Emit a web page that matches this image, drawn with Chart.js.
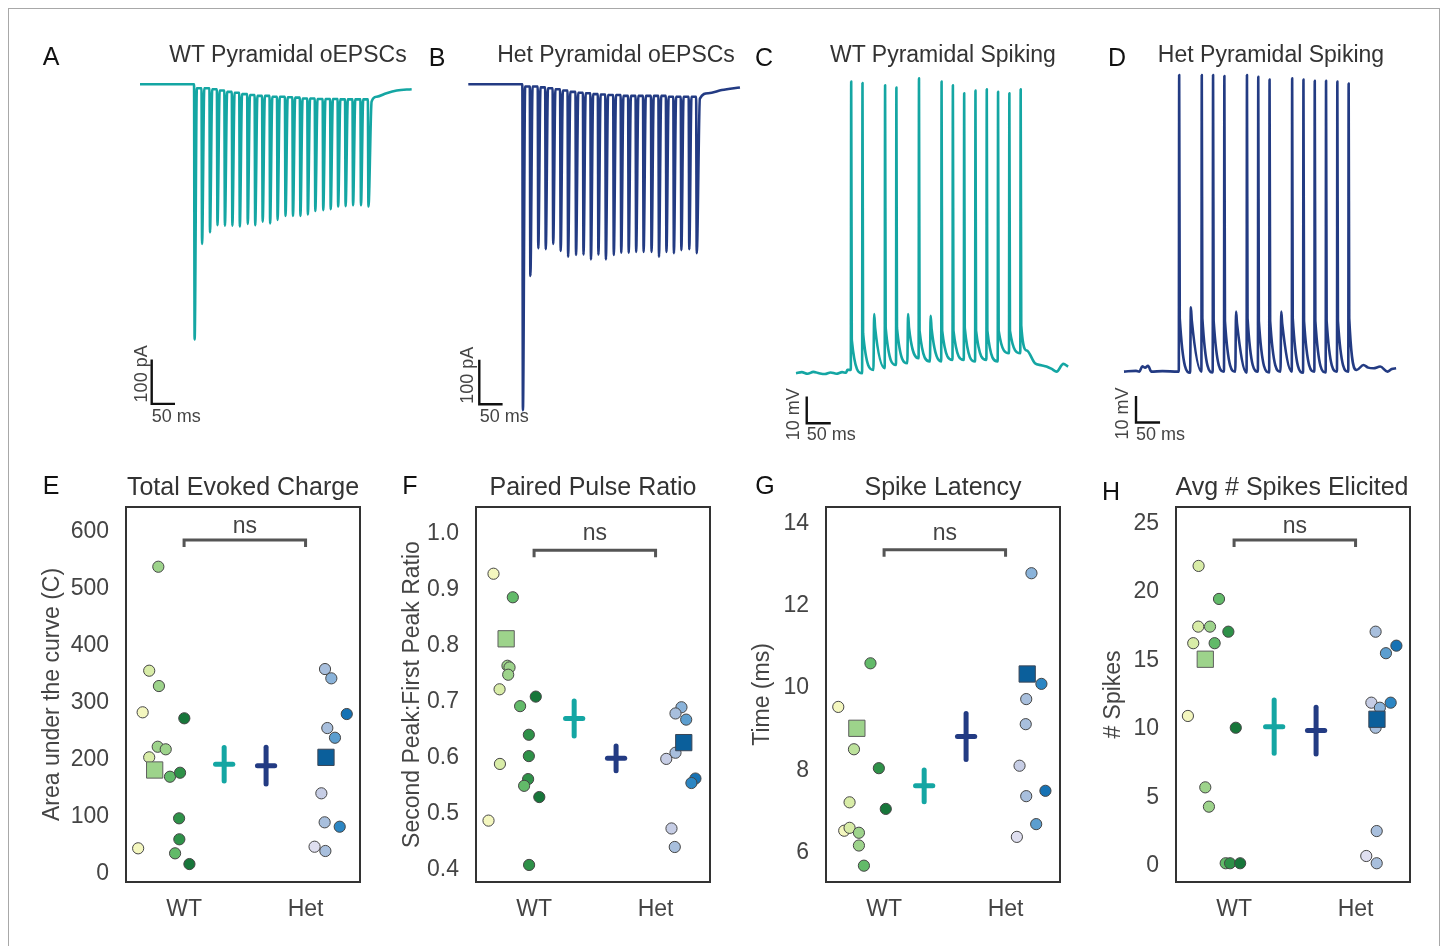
<!DOCTYPE html>
<html><head><meta charset="utf-8">
<script src="https://cdn.jsdelivr.net/npm/chart.js@4.4.1/dist/chart.umd.min.js"></script>
<style>
body{margin:0;background:#fff;}
#page{position:relative;width:1444px;height:946px;overflow:hidden;font-family:"Liberation Sans",Arial,Helvetica,sans-serif;background:#fff;}
canvas{position:absolute;}
.t{position:absolute;transform:translate(-50%,-50%);white-space:nowrap;line-height:1;}
</style></head><body><div id="page">
<div style="position:absolute;left:8px;top:8px;width:1430px;height:960px;border:1px solid #a8a8a8;"></div>
</div>
<script>
// ---------------- DATA ----------------
// oEPSC traces (time in ms, current in pA relative to baseline)
const epscPulseTimes = [116,132,149,165,181,197,213,230,246,262,278,294,311,327,343,359,375,392,408,424,440,456,473,489];
const wtEpscTroughs = [-574,-359,-333,-317,-318,-318,-320,-314,-317,-309,-313,-305,-296,-296,-296,-293,-285,-283,-281,-275,-274,-272,-272,-275];
const wtEpscRecovery = [-9,-9,-11,-14,-17,-19,-22,-24,-26,-26,-28,-28,-29,-30,-32,-32,-33,-33,-33,-34,-34,-34,-34];
const wtEpscTailTimes = [497,508,529,551,583];
const wtEpscTailValues = [-39,-28,-20,-14,-11];
const hetEpscTroughs = [-733,-431,-369,-371,-359,-375,-388,-384,-383,-394,-383,-394,-384,-379,-379,-377,-377,-377,-388,-377,-380,-373,-371,-380];
const hetEpscRecovery = [-5,-5,-7,-9,-11,-14,-17,-19,-20,-22,-23,-24,-24,-26,-26,-26,-26,-26,-26,-28,-28,-28,-28];
const hetEpscTailTimes = [497,515,544,583];
const hetEpscTailValues = [-32,-20,-13,-7];

// Spiking traces (time in ms, membrane potential in mV relative to rest)
const spikePulseTimes = [114,137.5,161,184.5,208,231.5,255,278.5,302,325.5,349,372.5,396,419.5,443,466.5];
const wtPreTimes = [0,12,24,36,48,60,72,84,96,104,107];
const wtPreValues = [0,0.4,-0.2,0.5,0,-0.3,0.3,-0.2,0.4,0.2,1.25];
const wtSpikeTroughs = [1.25,0,1.25,1.9,3.1,3.75,5.6,4.4,4.4,5,5,4.4,5,4.4,7.5,7.5];
const wtSpikePeaks = [109.4,108.9,22.2,108,107.2,22.2,110.6,21.5,109.4,108,105,106,106.5,105.6,105,106.5];
const wtSpikeFall = [12.5,15,17,17,17,17,16,16.5,16,16,17,16,16,16,16,18];
const wtTailTimes = [480,497,510,521,532,542,556,566];
const wtTailValues = [8.5,3.75,3.0,2.5,1.6,0.6,3.5,2.5];
const hetPreTimes = [0,25,32,38,44,50,57,80,112];
const hetPreValues = [0,0.3,0,2,1.5,2.2,0,0.2,0];
const hetSpikeTroughs = [0,-0.4,0,-0.3,0,0,-0.4,0,-0.3,0,0,-0.4,0,-0.3,0,0];
const hetSpikePeaks = [111.3,24.1,111.3,111.3,110.9,22.5,111.3,110.6,109.6,22.5,110,109.6,109.1,109.1,108.8,108.1];
const hetSpikeFall = [20,19,20,19,19,18,20,19,19,18,20,19,19,19,19,20];
const hetTailTimes = [484,498,508,519,533,548,557,566];
const hetTailValues = [0.6,2.5,1.5,1.25,1.9,0,1.0,1.25];

// Summary panels
const groups = ['WT','Het'];
const meanX = [0.33,0.675];

const eTicks = [0,100,200,300,400,500,600];
const eWTValues = [539.1,356.7,329.8,283.7,273.2,223.3,218.8,204.7,170.7,177.7,97.7,60.9,36.3,17.5,45.1];
const eWTJitter = [-0.212,-0.287,-0.207,-0.341,0.002,-0.217,-0.151,-0.287,-0.116,-0.033,-0.041,-0.039,-0.074,0.044,-0.378];
const eWTShade = [3,1,3,0,6,3,3,1,4,5,5,5,4,6,0];
const eWTRep = {x:-0.242, y:182.5};
const eHetValues = [359.6,343.3,280.7,256.1,239.1,141.6,90.7,83.0,47.9,40.4];
const eHetJitter = [1.16,1.212,1.339,1.179,1.242,1.13,1.157,1.281,1.074,1.163];
const eHetShade = [2,3,6,2,4,1,2,5,0,2];
const eHetRep = {x:1.168, y:204.7};
const eMeans = [192.5,190.0];
const eSEM = [29.3,32.2];

const fTicks = [0.4,0.5,0.6,0.7,0.8,0.9,1.0];
const fWTValues = [0.928,0.886,0.764,0.761,0.748,0.722,0.709,0.692,0.641,0.603,0.589,0.562,0.550,0.530,0.488,0.409];
const fWTJitter = [-0.334,-0.175,-0.219,-0.202,-0.213,-0.284,0.014,-0.115,-0.043,-0.043,-0.281,-0.049,-0.082,0.043,-0.375,-0.041];
const fWTShade = [0,4,3,3,3,1,6,4,5,5,1,5,4,6,0,5];
const fWTRep = {x:-0.23, y:0.812};
const fHetValues = [0.690,0.679,0.668,0.609,0.598,0.563,0.555,0.474,0.441];
const fHetJitter = [1.213,1.164,1.252,1.164,1.088,1.328,1.295,1.131,1.158];
const fHetShade = [3,2,4,2,1,6,5,1,2];
const fHetRep = {x:1.232, y:0.627};
const fMeans = [0.670,0.599];
const fSEM = [0.031,0.022];

const gTicks = [6,8,10,12,14];
const gWTValues = [10.60,9.54,8.51,8.05,7.22,7.06,6.53,6.60,6.48,6.17,5.68];
const gWTJitter = [-0.112,-0.377,-0.248,-0.043,-0.284,0.014,-0.328,-0.284,-0.207,-0.207,-0.166];
const gWTShade = [4,0,2,5,1,6,0,1,3,3,4];
const gWTRep = {x:-0.224, y:9.02};
const gHetValues = [12.79,10.10,9.73,9.12,8.11,7.50,7.37,6.69,6.38];
const gHetJitter = [1.213,1.295,1.17,1.166,1.115,1.328,1.17,1.252,1.093];
const gHetShade = [3,5,2,2,1,6,2,4,0];
const gHetRep = {x:1.178, y:10.34};
const gMeans = [7.62,8.82];
const gSEM = [0.385,0.559];

const hTicks = [0,5,10,15,20,25];
const hWTValues = [21.9,19.49,17.47,17.47,17.1,16.26,16.26,10.95,10.09,5.74,4.33,0.2,0.2,0.2];
const hWTJitter = [-0.292,-0.124,-0.295,-0.198,-0.047,-0.336,-0.16,-0.38,0.014,-0.237,-0.207,-0.069,-0.033,0.05];
const hWTShade = [1,4,1,3,5,1,4,0,6,3,3,4,5,6];
const hWTRep = {x:-0.237, y:15.09};
const hHetValues = [17.1,16.08,15.53,11.92,11.92,11.55,10.09,2.55,0.73,0.2];
const hHetJitter = [1.165,1.336,1.25,1.13,1.289,1.2,1.165,1.174,1.088,1.174];
const hHetShade = [2,6,4,1,5,3,2,2,0,2];
const hHetRep = {x:1.176, y:10.71};
const hMeans = [10.17,9.88];
const hSEM = [1.95,1.70];

const sigLabels = ['ns','ns','ns','ns'];
const bracketLevels = [586,0.970,13.36,23.8];

// ---------------- STYLE ----------------
const TEAL = '#14a6a3', NAVY = '#233b83';
const wtPalette = ['#f4f7bf','#d8eca7','#bde29c','#9dd38b','#62ba69','#2e9148','#17763a'];
const hetPalette = ['#dfdff0','#c6cde5','#a8bfdd','#8ab3da','#5c9ecf','#2c86c3','#1672b4'];
const FONT = '"Liberation Sans", Arial, Helvetica, sans-serif';
Chart.defaults.font.family = FONT;
Chart.defaults.color = '#444';

const page = document.getElementById('page');
function place(left, top, w, h){
  const c = document.createElement('canvas');
  c.width = w; c.height = h;
  c.style.left = left+'px'; c.style.top = top+'px';
  c.style.width = w+'px'; c.style.height = h+'px';
  page.appendChild(c);
  return c;
}
function text(str, x, y, size, color){
  const d = document.createElement('div');
  d.className = 't'; d.textContent = str;
  d.style.left = x+'px'; d.style.top = y+'px';
  d.style.fontSize = size+'px'; d.style.color = color;
  page.appendChild(d);
}

// ---------------- TRACE BUILDERS ----------------
function buildEpsc(onsets, troughs, recov, tailT, tailV){
  const pts = [{x:0,y:0}];
  onsets.forEach((t,i)=>{
    pts.push({x:t, y: i===0 ? 0 : recov[i-1]});
    pts.push({x:t+1.2, y:troughs[i]});
    if (i < recov.length) pts.push({x:t+6, y:recov[i]});
  });
  tailT.forEach((t,i)=>pts.push({x:t, y:tailV[i]}));
  return pts;
}
function buildSpiking(preT, preV, onsets, troughs, peaks, falls, tailT, tailV){
  const pts = preT.map((t,i)=>({x:t, y:preV[i]}));
  onsets.forEach((t,i)=>{
    const spike = peaks[i] > 60;
    pts.push({x:t, y:troughs[i]});
    pts.push({x:t + (spike ? 0.8 : 1.6), y:peaks[i]});
    pts.push({x:t + (spike ? 2 : 3.6), y:falls[i]});
  });
  tailT.forEach((t,i)=>pts.push({x:t, y:tailV[i]}));
  return pts;
}

function traceChart(o){
  const cv = place(o.left, o.top, o.w, o.h);
  const b = o.bar;
  const barText = {
    id:'barText',
    afterDatasetsDraw(chart){
      const {ctx, scales:{x,y}} = chart;
      const cx = x.getPixelForValue(b.t0), cy = y.getPixelForValue(b.v0);
      ctx.save();
      ctx.fillStyle = '#444';
      ctx.font = '18px ' + FONT;
      ctx.textBaseline = 'middle';
      ctx.textAlign = 'left';
      ctx.fillText(b.tLabel, cx + o.tdx, cy + o.tdy);
      ctx.translate(cx + o.vdx, cy + o.vdy);
      ctx.rotate(-Math.PI/2);
      ctx.textAlign = 'center';
      ctx.fillText(b.vLabel, 0, 0);
      ctx.restore();
    }
  };
  new Chart(cv, {
    type:'line',
    data:{datasets:[
      {data:o.points, borderColor:o.color, borderWidth:2.6, pointRadius:0, cubicInterpolationMode:'monotone', clip:false, borderJoinStyle:'round'},
      {data:[{x:b.t0, y:b.v0+b.dv},{x:b.t0, y:b.v0},{x:b.t0+b.dt, y:b.v0}], borderColor:'#111', borderWidth:2.4, pointRadius:0, tension:0, clip:false}
    ]},
    options:{
      responsive:false, animation:false, devicePixelRatio:1, events:[],
      layout:{padding:0, autoPadding:false},
      plugins:{legend:{display:false}, tooltip:{enabled:false}},
      scales:{
        x:{type:'linear', display:false, min:o.xr[0], max:o.xr[1]},
        y:{type:'linear', display:false, min:o.yr[0], max:o.yr[1]}
      }
    },
    plugins:[barText]
  });
}

// A
traceChart({left:130, top:60, w:295, h:380, color:TEAL,
  points: buildEpsc(epscPulseTimes, wtEpscTroughs, wtEpscRecovery, wtEpscTailTimes, wtEpscTailValues),
  xr:[-21.46, 611.6], yr:[-800.3, 54.7],
  bar:{t0:25.1, v0:-719, dt:50, dv:100, tLabel:'50 ms', vLabel:'100 pA'},
  tdx:0, tdy:13, vdx:-10, vdy:-30});
// B
traceChart({left:458, top:60, w:295, h:380, color:NAVY,
  points: buildEpsc(epscPulseTimes, hetEpscTroughs, hetEpscRecovery, hetEpscTailTimes, hetEpscTailValues),
  xr:[-22.1, 611], yr:[-800.3, 54.7],
  bar:{t0:23.6, v0:-720, dt:50, dv:100, tLabel:'50 ms', vLabel:'100 pA'},
  tdx:0.5, tdy:13, vdx:-11.5, vdy:-29});
// C
traceChart({left:785, top:60, w:295, h:390, color:TEAL,
  points: buildSpiking(wtPreTimes, wtPreValues, spikePulseTimes, wtSpikeTroughs, wtSpikePeaks, wtSpikeFall, wtTailTimes, wtTailValues),
  xr:[-22.9, 590.7], yr:[-28.8, 117.5],
  bar:{t0:22.3, v0:-18.75, dt:50, dv:10, tLabel:'50 ms', vLabel:'10 mV'},
  tdx:0, tdy:12, vdx:-12.7, vdy:-9});
// D
traceChart({left:1110, top:60, w:300, h:390, color:NAVY,
  points: buildSpiking(hetPreTimes, hetPreValues, spikePulseTimes, hetSpikeTroughs, hetSpikePeaks, hetSpikeFall, hetTailTimes, hetTailValues),
  xr:[-29.1, 594.9], yr:[-29.4, 116.9],
  bar:{t0:25, v0:-19.1, dt:50, dv:10, tLabel:'50 ms', vLabel:'10 mV'},
  tdx:0, tdy:12, vdx:-12.7, vdy:-9});

// ---------------- SUMMARY PANELS ----------------
const framePlugin = {
  id:'frame',
  afterDraw(chart, args, opts){
    const {ctx, chartArea:a, scales:{x,y}} = chart;
    ctx.save();
    ctx.strokeStyle = '#333'; ctx.lineWidth = 2;
    ctx.strokeRect(a.left, a.top, a.right-a.left, a.bottom-a.top);
    const x0 = x.getPixelForValue(0), x1 = x.getPixelForValue(1), yb = y.getPixelForValue(opts.level);
    ctx.strokeStyle = '#555'; ctx.lineWidth = 3; ctx.lineJoin = 'miter';
    ctx.beginPath(); ctx.moveTo(x0, yb+7); ctx.lineTo(x0, yb); ctx.lineTo(x1, yb); ctx.lineTo(x1, yb+7); ctx.stroke();
    ctx.fillStyle = '#444'; ctx.font = '23px ' + FONT;
    ctx.textAlign = 'center'; ctx.textBaseline = 'alphabetic';
    ctx.fillText(opts.label, (x0+x1)/2, yb - opts.gap);
    ctx.restore();
  }
};

function crossSets(means, sems){
  const cols = [TEAL, NAVY], half = 0.071, out = [];
  means.forEach((m,i)=>{
    out.push({data:[{x:meanX[i], y:m-sems[i]},{x:meanX[i], y:m+sems[i]}], showLine:true, borderColor:cols[i], borderWidth:5, pointRadius:0, borderCapStyle:'round'});
    out.push({data:[{x:meanX[i]-half, y:m},{x:meanX[i]+half, y:m}], showLine:true, borderColor:cols[i], borderWidth:5, pointRadius:0, borderCapStyle:'round'});
  });
  return out;
}

function dotPanel(o){
  const yW = 100;
  const cv = place(o.frameLeft - yW, 470, yW + 234 + 6, 37 + 375 + 50);
  const wtPts = o.wtV.map((v,i)=>({x:o.wtJ[i], y:v}));
  const hetPts = o.hetV.map((v,i)=>({x:o.hetJ[i], y:v}));
  new Chart(cv, {
    type:'scatter',
    data:{datasets:[
      {data:[o.wtRep], pointStyle:'rect', pointRadius:11.5, backgroundColor:'#9dd38b', borderColor:'#5e5e5e', borderWidth:1},
      {data:[o.hetRep], pointStyle:'rect', pointRadius:11.5, backgroundColor:'#0b5f9b', borderColor:'#3b4656', borderWidth:1},
      {data:wtPts, backgroundColor:o.wtS.map(s=>wtPalette[s]), borderColor:'#454545', borderWidth:1, pointRadius:5.6},
      {data:hetPts, backgroundColor:o.hetS.map(s=>hetPalette[s]), borderColor:'#454545', borderWidth:1, pointRadius:5.6},
      ...crossSets(o.means, o.sems)
    ]},
    options:{
      responsive:false, animation:false, devicePixelRatio:1, events:[],
      layout:{padding:{top:37, right:6, left:0, bottom:0}, autoPadding:false},
      plugins:{legend:{display:false}, tooltip:{enabled:false}, frame:{level:o.level, label:o.sig, gap:o.gap}},
      scales:{
        x:{type:'linear', position:'bottom', min:-0.478, max:1.448,
           grid:{display:false, drawTicks:false}, border:{display:false},
           ticks:{font:{size:23}, color:'#444', padding:14, maxRotation:0, callback:(v,i)=>groups[i]},
           afterBuildTicks:s=>{ s.ticks = groups.map((g,i)=>({value:i})); },
           afterFit:s=>{ s.height = 50; s.paddingLeft = 0; s.paddingRight = 0; }},
        y:{type:'linear', position:'left', min:o.yr[0], max:o.yr[1],
           grid:{display:false, drawTicks:false}, border:{display:false},
           title:{display:true, text:o.yTitle, font:{size:23}, color:'#444', padding:{top:o.titlePad, bottom:0}},
           ticks:{font:{size:23}, color:'#444', padding:17, callback:o.fmt},
           afterBuildTicks:s=>{ s.ticks = o.ticks.map(v=>({value:v})); },
           afterFit:s=>{ s.width = yW; s.paddingTop = 0; s.paddingBottom = 0; }}
      }
    },
    plugins:[framePlugin]
  });
}

const intFmt = v => String(v);
dotPanel({frameLeft:126, titlePad:13, yTitle:'Area under the curve (C)', yr:[-14, 643.9], ticks:eTicks, fmt:intFmt,
  wtV:eWTValues, wtJ:eWTJitter, wtS:eWTShade, wtRep:eWTRep, hetV:eHetValues, hetJ:eHetJitter, hetS:eHetShade, hetRep:eHetRep,
  means:eMeans, sems:eSEM, level:bracketLevels[0], sig:sigLabels[0], gap:7});
dotPanel({frameLeft:476, titlePad:23, yTitle:'Second Peak:First Peak Ratio', yr:[0.3786, 1.0469], ticks:fTicks, fmt:v=>v.toFixed(1),
  wtV:fWTValues, wtJ:fWTJitter, wtS:fWTShade, wtRep:fWTRep, hetV:fHetValues, hetJ:fHetJitter, hetS:fHetShade, hetRep:fHetRep,
  means:fMeans, sems:fSEM, level:bracketLevels[1], sig:sigLabels[1], gap:10});
dotPanel({frameLeft:826, titlePad:23, yTitle:'Time (ms)', yr:[5.283, 14.40], ticks:gTicks, fmt:intFmt,
  wtV:gWTValues, wtJ:gWTJitter, wtS:gWTShade, wtRep:gWTRep, hetV:gHetValues, hetJ:gHetJitter, hetS:gHetShade, hetRep:gHetRep,
  means:gMeans, sems:gSEM, level:bracketLevels[2], sig:sigLabels[2], gap:10});
dotPanel({frameLeft:1176, titlePad:23.5, yTitle:'# Spikes', yr:[-1.168, 26.2], ticks:hTicks, fmt:intFmt,
  wtV:hWTValues, wtJ:hWTJitter, wtS:hWTShade, wtRep:hWTRep, hetV:hHetValues, hetJ:hHetJitter, hetS:hHetShade, hetRep:hHetRep,
  means:hMeans, sems:hSEM, level:bracketLevels[3], sig:sigLabels[3], gap:7});

// ---------------- TITLES / PANEL LETTERS ----------------
const panelTitles = ['WT Pyramidal oEPSCs','Het Pyramidal oEPSCs','WT Pyramidal Spiking','Het Pyramidal Spiking',
                     'Total Evoked Charge','Paired Pulse Ratio','Spike Latency','Avg # Spikes Elicited'];
const panelLetters = ['A','B','C','D','E','F','G','H'];
const titlePos = [[288,54,23],[616,54,23],[943,54,23],[1271,54,23],[243,486,25],[593,486,25],[943,486,25],[1292,486,25]];
const letterPos = [[51,56],[437,57],[764,57],[1117,57],[51,485],[410,485],[765,485],[1111,491]];
panelTitles.forEach((t,i)=>text(t, titlePos[i][0], titlePos[i][1], titlePos[i][2], '#333'));
panelLetters.forEach((t,i)=>text(t, letterPos[i][0], letterPos[i][1], 25, '#111'));
</script>
</body></html>
